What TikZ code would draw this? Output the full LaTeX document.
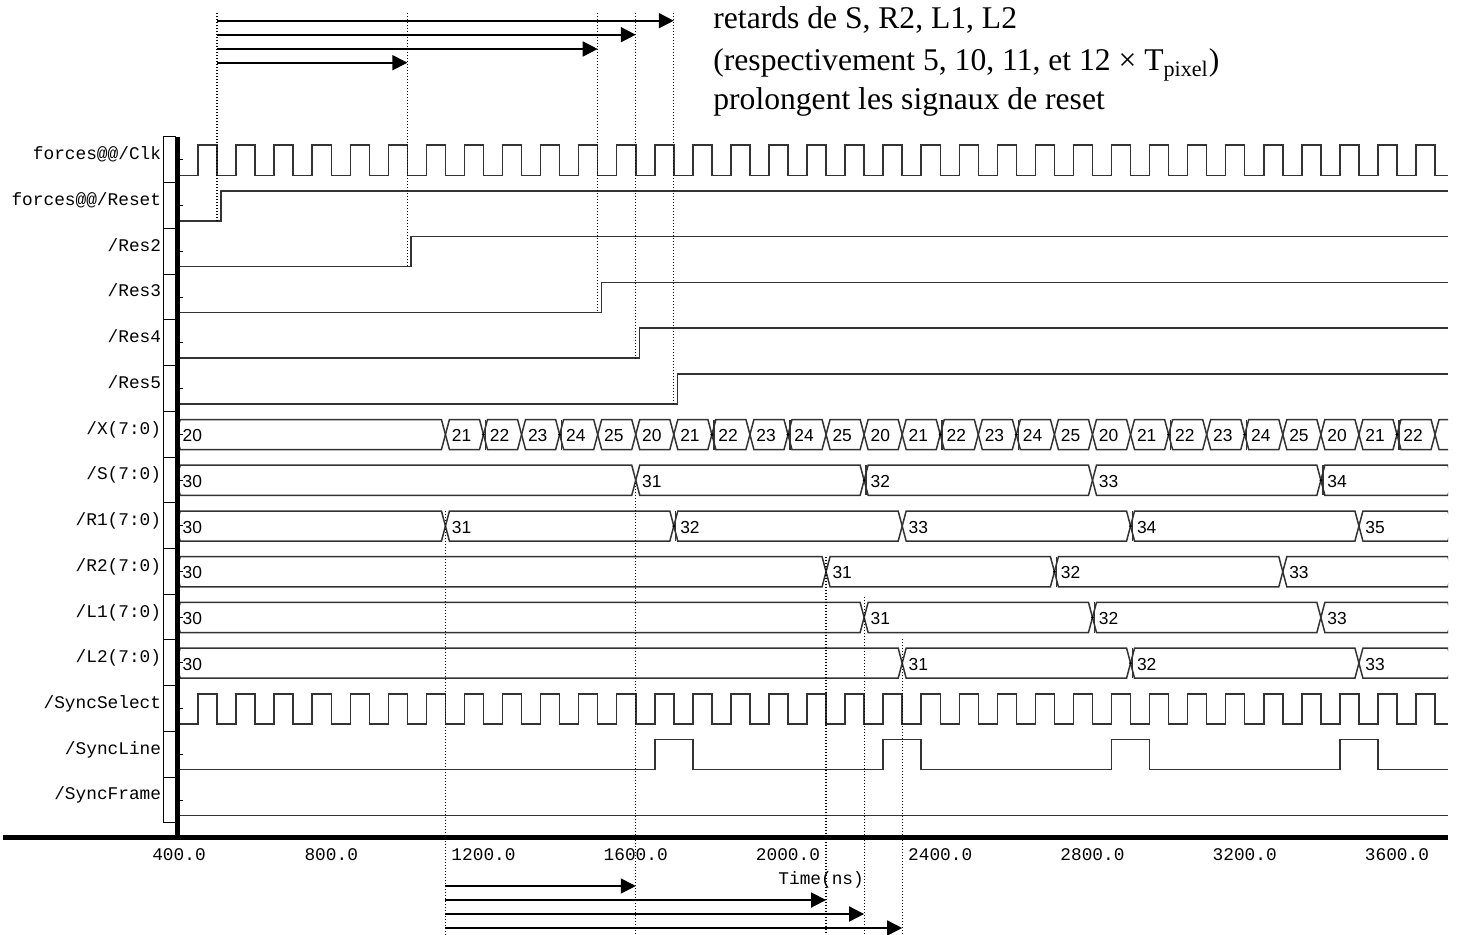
\documentclass[tikz,border=0pt]{standalone}
\usepackage{fontspec}
\setmainfont{Liberation Serif}
\newfontfamily\sigmono{Liberation Mono}
\newfontfamily\sigsans{Liberation Sans}
\usetikzlibrary{arrows.meta,calc,positioning}
\newcommand{\monosmall}{\sigmono\fontsize{8.9pt}{9pt}\selectfont}
\newcommand{\valsmall}{\sigsans\fontsize{8.7pt}{9pt}\selectfont}
\tikzset{
  wave/.style={line width=0.75pt, draw=black!80},
  dotln/.style={line width=0.6pt, dash pattern=on 0.6pt off 0.9pt},
  delarr/.style={-{Triangle[length=7.5pt,width=7.5pt]}, line width=0.9pt},
  siglbl/.style={anchor=base east, inner sep=0pt, font=\monosmall},
  axlbl/.style={anchor=base, inner sep=0pt, font=\monosmall},
  busval/.style={anchor=west, inner sep=0pt, font=\valsmall},
  notetxt/.style={anchor=base west, inner sep=0pt, font=\fontsize{15.8pt}{18pt}\selectfont}
}
% one bus row: top y, bottom y, name, segments start/end/value
\newcommand{\busrow}[4]{%
  \foreach \a/\b/\v [count=\j] in {#4}{
    \draw[wave] (\a,{(#1+#2)/2}) -- ({\a+10.5},#1) -- ({\b-10.5},#1) -- (\b,{(#1+#2)/2})
      -- ({\b-10.5},#2) -- ({\a+10.5},#2) -- cycle;
    \node[busval] (#3\j) at ({\a+16},{(#1+#2)/2+1}) {\v};
  }}
% short glitch at a transition
\newcommand{\glitch}[3]{%
  \foreach \t in {#3}{
    \draw[wave] ({\t+5},#1) -- ({\t+5},#2);
    \fill (\t,{(#1+#2)/2}) circle[radius=0.8pt];
  }}

\begin{document}
\begin{tikzpicture}[x=0.5pt,y=-0.5pt]
  \useasboundingbox (0,0) rectangle (1460,935);
  % name column
  \draw[line width=0.5pt] (163,137) rectangle (175,822.8);
  \foreach \i in {1,...,14}
    \draw[line width=0.5pt] (163,{137+45.72*\i}) -- (175,{137+45.72*\i});
  \foreach \n [count=\i from 0] in {{forces@@/Clk},{forces@@/Reset},{/Res2},{/Res3},{/Res4},{/Res5},{/X(7:0)},{/S(7:0)},{/R1(7:0)},{/R2(7:0)},{/L1(7:0)},{/L2(7:0)},{/SyncSelect},{/SyncLine},{/SyncFrame}}{
    \node[siglbl] (sig\i) at (161.5,{159.8+45.72*\i}) {\n};
    \draw[line width=0.5pt] (179,{160+45.72*\i}) -- (182.5,{160+45.72*\i});
  }
  \draw[line width=2.5pt] (177.5,137) -- (177.5,839.5);
  \draw[line width=2.5pt] (3,837.5) -- (1448,837.5);

  % note
  \node[notetxt] (note1) at (713,29) {retards de S, R2, L1, L2};
  \node[notetxt] (note2) at (713,71) {(respectivement 5, 10, 11, et 12 × T\textsubscript{pixel})};
  \node[notetxt] (note3) at (713,110) {prolongent les signaux de reset};

  % time axis: x in ns
  \begin{scope}[shift={(26.76,0)},x=0.1903pt]
    % clocks
    \foreach \lo/\hi in {175.3/145.2,723.9/693.8}
      \draw[wave] (403,\lo) \foreach \k in {0,...,32}{ -- ({450+100*\k},\lo) -- ({450+100*\k},\hi)
        -- ({500+100*\k},\hi) -- ({500+100*\k},\lo)} -- (3734,\lo);
    % resets
    \foreach \t/\lo/\hi in {510/221.0/190.9,1010/266.7/236.6,1510/312.5/282.4,1610/358.2/328.1,1710/403.9/373.8}
      \draw[wave] (403,\lo) -- (\t,\lo) -- (\t,\hi) -- (3734,\hi);
    % sync
    \draw[wave] (403,769.7) \foreach \t in {1650,2250,2850,3450}{ -- (\t,769.7) -- (\t,739.6)
      -- ({\t+100},739.6) -- ({\t+100},769.7)} -- (3734,769.7);
    \draw[wave] (403,815.4) -- (3734,815.4);

    % buses
    \begin{scope}
      \clip (403,400) rectangle (3734,690);
      \busrow{419.5}{449.6}{x}{392.5/1100/20,1100/1200/21,1200/1300/22,1300/1400/23,1400/1500/24,1500/1600/25,1600/1700/20,1700/1800/21,1800/1900/22,1900/2000/23,2000/2100/24,2100/2200/25,2200/2300/20,2300/2400/21,2400/2500/22,2500/2600/23,2600/2700/24,2700/2800/25,2800/2900/20,2900/3000/21,3000/3100/22,3100/3200/23,3200/3300/24,3300/3400/25,3400/3500/20,3500/3600/21,3600/3700/22}
      \draw[wave] (3744,419.5) -- (3710.5,419.5) -- (3700,434.55) -- (3710.5,449.6) -- (3744,449.6);
      \glitch{419.5}{449.6}{1200,1400,1800,2000,2400,2600,3000,3200,3600}
      \busrow{465.2}{495.3}{s}{392.5/1600/30,1600/2200/31,2200/2800/32,2800/3400/33,3400/3744.5/34}
      \glitch{465.2}{495.3}{2200,3400}
      \busrow{511.0}{541.1}{ra}{392.5/1100/30,1100/1700/31,1700/2300/32,2300/2900/33,2900/3500/34,3500/3744.5/35}
      \glitch{511.0}{541.1}{1700,2900}
      \busrow{556.7}{586.8}{rb}{392.5/2100/30,2100/2700/31,2700/3300/32,3300/3744.5/33}
      \glitch{556.7}{586.8}{2700}
      \busrow{602.4}{632.5}{la}{392.5/2200/30,2200/2800/31,2800/3400/32,3400/3744.5/33}
      \glitch{602.4}{632.5}{2800}
      \busrow{648.1}{678.2}{lb}{392.5/2300/30,2300/2900/31,2900/3500/32,3500/3744.5/33}
      \glitch{648.1}{678.2}{2900}
    \end{scope}

    % reset delays (top)
    \foreach \t/\y [count=\j] in {500/221.0,1000/266.7,1500/312.5,1600/358.2,1700/403.9}{
      \coordinate (up\j) at (\t,13);
      \coordinate (dn\j) at (\t,\y);
      \draw[dotln] (up\j) -- (dn\j);
    }
    \foreach \t/\y [count=\j] in {1700/20.7,1600/34.7,1500/49,1000/62.7}{
      \coordinate (rs\j) at (500,\y);
      \coordinate (re\j) at (\t,\y);
      \draw[delarr] (rs\j) -- (re\j);
    }
    % data delays (bottom)
    \foreach \t/\y [count=\j] in {1100/511,1600/483,2100/556.7,2200/597,2300/639}{
      \coordinate (bt\j) at (\t,\y);
      \coordinate (bb\j) at (\t,935);
      \draw[dotln] (bt\j) -- (bb\j);
    }
    \foreach \t/\y [count=\j] in {1600/886,2100/900,2200/914,2300/928}{
      \coordinate (ls\j) at (1100,\y);
      \coordinate (le\j) at (\t,\y);
      \draw[delarr] (ls\j) -- (le\j);
    }

    % axis
    \foreach \t in {400,800,...,3600}
      \node[axlbl] (tk\t) at (\t,860) {\t.0};
    \node[axlbl] (tunit) at (2087,884) {Time(ns)};
  \end{scope}
\end{tikzpicture}
\end{document}
